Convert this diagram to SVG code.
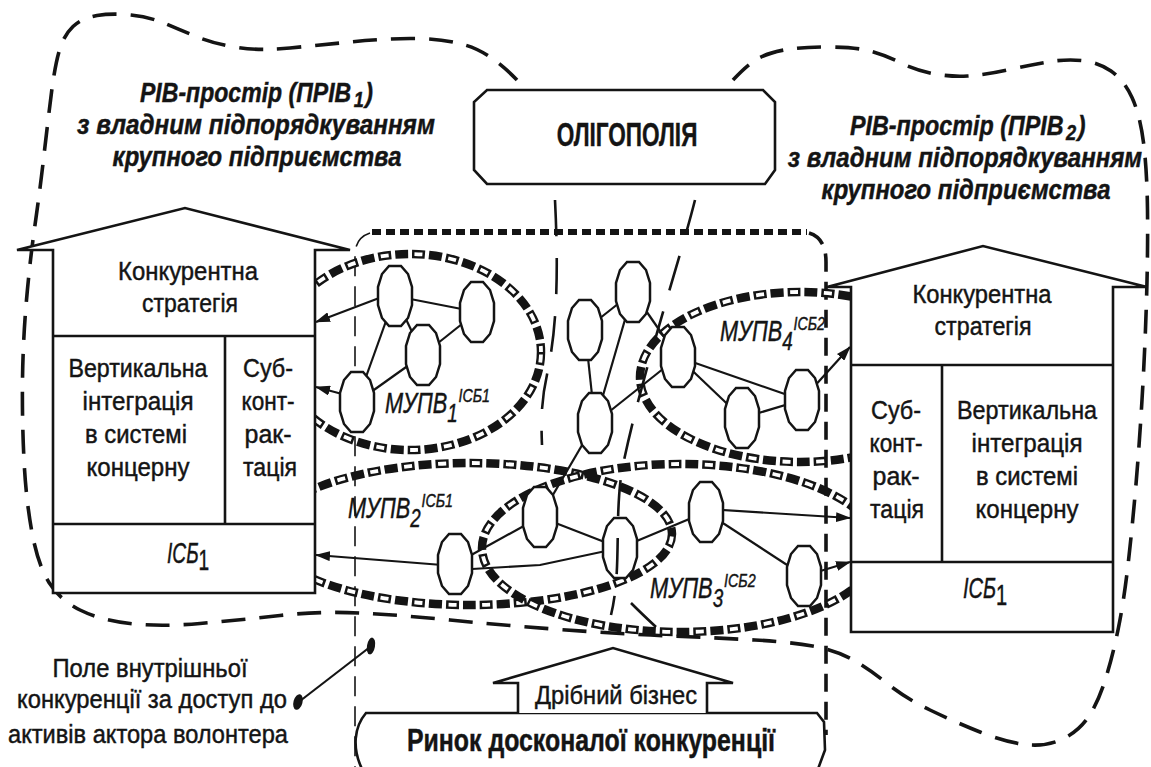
<svg xmlns="http://www.w3.org/2000/svg" width="1151" height="767" viewBox="0 0 1151 767">
<defs>
<style>
.t{font-family:'Liberation Sans Narrow','Liberation Sans',Arial,sans-serif;fill:#141414;stroke:#141414;stroke-width:0.45}
.r{font-size:26px}
.it{font-style:italic}
.b{font-weight:bold}
.box{fill:#fff;stroke:#141414;stroke-width:2.6;stroke-linejoin:miter}
.div{stroke:#141414;stroke-width:2.6;fill:none}
.cloud{fill:none;stroke:#141414;stroke-width:3.6;stroke-dasharray:24 14}
.chainK{fill:none;stroke:#141414;stroke-width:8.5;stroke-dasharray:13 4}
.chainW{fill:none;stroke:#fff;stroke-width:3.8;stroke-dasharray:8 26;stroke-dashoffset:-2.5}
.edge{stroke:#141414;stroke-width:2.2;fill:none}
.arrow{stroke:#141414;stroke-width:2.2;fill:none;marker-end:url(#arr)}
.node{fill:#fff;stroke:#141414;stroke-width:2.5}
.bound{fill:none;stroke:#141414;stroke-width:2.6;stroke-dasharray:36 22}
.dots{fill:none;stroke:#141414;stroke-width:6;stroke-dasharray:9 5}
.thin{fill:none;stroke:#141414;stroke-width:1.6;stroke-dasharray:20 10}
.thick{fill:none;stroke:#141414;stroke-width:3.6;stroke-dasharray:18 10}
</style>
<marker id="arr" markerUnits="userSpaceOnUse" markerWidth="15" markerHeight="10" refX="14" refY="5" orient="auto">
<path d="M0,0 L15,5 L0,10 z" fill="#141414"/>
</marker>
<polygon id="oct" points="-6,-30 6,-30 13,-22 17,-9 17,9 13,22 6,30 -6,30 -13,22 -17,9 -17,-9 -13,-22"/>
</defs>

<g id="field-priv">
<path class="cloud" d="M517,80 Q490,52 465,45 Q440,38 410,38.5 Q380,39 350,42 Q320,45 290,48 Q260,51 237.5,47.5 Q215,44 197.5,37 Q180,30 165,23.5 Q150,17 131,15 Q112,13 97,15.5 Q82,18 73,26.5 Q64,35 59.5,50 Q55,65 51.5,92.5 Q48,120 44,155 Q40,190 35,225 Q30,260 26.5,300 Q23,340 22.5,380 Q22,420 24,460 Q26,500 32,532.5 Q38,565 49,582.5 Q60,600 80,610 Q100,620 130,623.5 Q160,627 200,623.5 Q240,620 280,615.5 Q320,611 360,613 Q400,615 450,620 Q500,625 560,629.5 Q620,634 670,636 Q720,638 755,640 Q790,642 812.5,646 Q835,650 851.5,659 Q868,668 886.5,683 Q905,698 930,710 Q955,722 980,732 Q1005,742 1025,744.5 Q1045,747 1061.5,739.5 Q1078,732 1088,717.5 Q1098,703 1105.5,679 Q1113,655 1118.5,627.5 Q1124,600 1128,565 Q1132,530 1135.5,490 Q1139,450 1142,400 Q1145,350 1146.5,300 Q1148,250 1147.5,210 Q1147,170 1143.5,142.5 Q1140,115 1132,97.5 Q1124,80 1111,71 Q1098,62 1081.5,60.5 Q1065,59 1047.5,62 Q1030,65 1007.5,70 Q985,75 967.5,76 Q950,77 932.5,73.5 Q915,70 900,62.5 Q885,55 870,51 Q855,47 827.5,47 Q800,47 784,50 Q768,53 758,58.5 Q748,64 733,80"/>
</g>

<g id="heading-left" class="t b it" font-size="28">
<text transform="translate(140,102) scale(0.86,1)" textLength="271" lengthAdjust="spacingAndGlyphs">РІВ-простір (ПРІВ<tspan font-size="22" dy="5" dx="3">1</tspan><tspan dy="-5" dx="2">)</tspan></text>
<text transform="translate(256,134) scale(0.86,1)" text-anchor="middle" textLength="416" lengthAdjust="spacingAndGlyphs">з владним підпорядкуванням</text>
<text transform="translate(257,166) scale(0.86,1)" text-anchor="middle" textLength="336" lengthAdjust="spacingAndGlyphs">крупного підприємства</text>
</g>
<g id="heading-right" class="t b it" font-size="28">
<text transform="translate(850,135) scale(0.86,1)" textLength="274" lengthAdjust="spacingAndGlyphs">РІВ-простір (ПРІВ<tspan font-size="22" dy="5" dx="3">2</tspan><tspan dy="-5" dx="2">)</tspan></text>
<text transform="translate(965,167) scale(0.86,1)" text-anchor="middle" textLength="412" lengthAdjust="spacingAndGlyphs">з владним підпорядкуванням</text>
<text transform="translate(966,199) scale(0.86,1)" text-anchor="middle" textLength="336" lengthAdjust="spacingAndGlyphs">крупного підприємства</text>
</g>

<g id="zone-center">
<path class="dots" d="M372,232 H807"/>
<path class="thin" d="M370,233 Q355,238 355,255 V767"/>
<path class="thick" d="M809,233 Q826,238 826,262 V735"/>
</g>

<g id="mupv1">
<ellipse class="chainK" cx="410" cy="352" rx="131" ry="98"/>
<ellipse class="chainW" cx="410" cy="352" rx="131" ry="98"/>
</g>
<g id="mupv2">
<ellipse class="chainK" cx="470" cy="534" rx="202" ry="71"/>
<ellipse class="chainW" cx="470" cy="534" rx="202" ry="71"/>
</g>
<g id="mupv3">
<ellipse class="chainK" cx="680" cy="548" rx="198" ry="84"/>
<ellipse class="chainW" cx="680" cy="548" rx="198" ry="84"/>
</g>
<g id="mupv4">
<ellipse class="chainK" cx="800" cy="377" rx="160" ry="85"/>
<ellipse class="chainW" cx="800" cy="377" rx="160" ry="85"/>
</g>

<g id="connectors">
<line class="edge" x1="395" y1="296" x2="477" y2="312"/>
<line class="edge" x1="395" y1="296" x2="423" y2="355"/>
<line class="edge" x1="395" y1="296" x2="357" y2="402"/>
<line class="edge" x1="477" y1="312" x2="423" y2="355"/>
<line class="edge" x1="423" y1="355" x2="357" y2="402"/>
<line class="edge" x1="585" y1="330" x2="633" y2="292"/>
<line class="edge" x1="633" y1="292" x2="595" y2="423"/>
<line class="edge" x1="585" y1="330" x2="595" y2="423"/>
<line class="edge" x1="633" y1="292" x2="678" y2="357"/>
<line class="edge" x1="595" y1="423" x2="678" y2="357"/>
<line class="edge" x1="595" y1="423" x2="540" y2="517"/>
<line class="edge" x1="678" y1="357" x2="802" y2="400"/>
<line class="edge" x1="678" y1="357" x2="742" y2="418"/>
<line class="edge" x1="742" y1="418" x2="802" y2="400"/>
<line class="edge" x1="455" y1="564" x2="540" y2="517"/>
<polyline class="edge" points="455,570 540,565 620,548"/>
<line class="edge" x1="540" y1="517" x2="620" y2="548"/>
<line class="edge" x1="620" y1="548" x2="706" y2="512"/>
<line class="edge" x1="706" y1="512" x2="804" y2="576"/>
<line class="arrow" x1="395" y1="292" x2="316" y2="322"/>
<line class="arrow" x1="357" y1="398" x2="316" y2="387"/>
<line class="arrow" x1="455" y1="566" x2="316" y2="555"/>
<line class="arrow" x1="802" y1="400" x2="850" y2="347"/>
<line class="arrow" x1="706" y1="509" x2="850" y2="518"/>
<line class="arrow" x1="804" y1="576" x2="850" y2="562"/>
<line class="edge" x1="300" y1="701" x2="370" y2="647"/>
</g>

<g id="node-a"><use href="#oct" class="node" x="395" y="296"/></g>
<g id="node-b"><use href="#oct" class="node" x="477" y="312"/></g>
<g id="node-c"><use href="#oct" class="node" x="423" y="355"/></g>
<g id="node-d"><use href="#oct" class="node" x="357" y="402"/></g>
<g id="node-e"><use href="#oct" class="node" x="633" y="292"/></g>
<g id="node-f"><use href="#oct" class="node" x="585" y="330"/></g>
<g id="node-g"><use href="#oct" class="node" x="595" y="423"/></g>
<g id="node-h"><use href="#oct" class="node" x="678" y="357"/></g>
<g id="node-j"><use href="#oct" class="node" x="742" y="418"/></g>
<g id="node-k"><use href="#oct" class="node" x="802" y="400"/></g>
<g id="node-l"><use href="#oct" class="node" x="455" y="564"/></g>
<g id="node-i"><use href="#oct" class="node" x="540" y="517"/></g>
<g id="node-m"><use href="#oct" class="node" x="620" y="548"/></g>
<g id="node-n"><use href="#oct" class="node" x="706" y="512"/></g>
<g id="node-o"><use href="#oct" class="node" x="804" y="576"/></g>

<g id="boundaries">
<path class="bound" d="M555,200 C559,280 556,330 548,370 C541,400 541,420 542,445"/>
<path class="bound" d="M695,200 C680,260 640,380 622,470 C614,520 622,570 611,615"/>
<path d="M631,603 Q642,614 656,627" fill="none" stroke="#141414" stroke-width="2.6"/>
</g>

<g id="labels-mupv" class="t it" font-size="29">
<text transform="translate(385,413) scale(0.76,1)" textLength="138" lengthAdjust="spacingAndGlyphs">МУПВ<tspan font-size="25" dy="9">1</tspan><tspan font-size="19" dy="-20" dx="1">ІСБ1</tspan></text>
<text transform="translate(348,518) scale(0.76,1)" textLength="138" lengthAdjust="spacingAndGlyphs">МУПВ<tspan font-size="25" dy="9">2</tspan><tspan font-size="19" dy="-20" dx="1">ІСБ1</tspan></text>
<text transform="translate(650,598) scale(0.76,1)" textLength="139" lengthAdjust="spacingAndGlyphs">МУПВ<tspan font-size="25" dy="9">3</tspan><tspan font-size="19" dy="-20" dx="1">ІСБ2</tspan></text>
<text transform="translate(720,341) scale(0.76,1)" textLength="138" lengthAdjust="spacingAndGlyphs">МУПВ<tspan font-size="25" dy="9">4</tspan><tspan font-size="19" dy="-20" dx="1">ІСБ2</tspan></text>
</g>

<g id="house-left">
<path class="box" d="M53,250 H17 L185,208 L350,250 H315 V593 H53 Z"/>
<path class="div" d="M53,336 H315 M225,336 V524 M53,524 H315"/>
<g class="t r" text-anchor="middle">
<text transform="translate(188,280) scale(0.9,1)" textLength="155.6" lengthAdjust="spacingAndGlyphs">Конкурентна</text>
<text transform="translate(190,312) scale(0.9,1)" textLength="106.7" lengthAdjust="spacingAndGlyphs">стратегія</text>
<text transform="translate(138,377) scale(0.9,1)" textLength="154.4" lengthAdjust="spacingAndGlyphs">Вертикальна</text>
<text transform="translate(138,410) scale(0.9,1)" textLength="123.3" lengthAdjust="spacingAndGlyphs">інтеграція</text>
<text transform="translate(136,443) scale(0.9,1)" textLength="113.3" lengthAdjust="spacingAndGlyphs">в системі</text>
<text transform="translate(138,476) scale(0.9,1)" textLength="114.4" lengthAdjust="spacingAndGlyphs">концерну</text>
<text transform="translate(268,377) scale(0.9,1)" textLength="55.6" lengthAdjust="spacingAndGlyphs">Суб-</text>
<text transform="translate(268,410) scale(0.9,1)" textLength="58.9" lengthAdjust="spacingAndGlyphs">конт-</text>
<text transform="translate(268,443) scale(0.9,1)" textLength="52.2" lengthAdjust="spacingAndGlyphs">рак-</text>
<text transform="translate(270,476) scale(0.9,1)" textLength="60" lengthAdjust="spacingAndGlyphs">тація</text>
</g>
<text class="t it" transform="translate(167,563) scale(0.66,1)" font-size="29" textLength="64" lengthAdjust="spacingAndGlyphs">ІСБ<tspan dy="7" font-style="normal">1</tspan></text>
</g>

<g id="house-right">
<path class="box" d="M851,287 H827 L983,246 L1147,287 H1113 V632 H851 Z"/>
<path class="div" d="M851,365 H1113 M942,365 V562 M851,562 H1113"/>
<g class="t r" text-anchor="middle">
<text transform="translate(982,303) scale(0.9,1)" textLength="154.4" lengthAdjust="spacingAndGlyphs">Конкурентна</text>
<text transform="translate(983,335) scale(0.9,1)" textLength="107.8" lengthAdjust="spacingAndGlyphs">стратегія</text>
<text transform="translate(896,419) scale(0.9,1)" textLength="55.6" lengthAdjust="spacingAndGlyphs">Суб-</text>
<text transform="translate(896,452) scale(0.9,1)" textLength="58.9" lengthAdjust="spacingAndGlyphs">конт-</text>
<text transform="translate(896,485) scale(0.9,1)" textLength="52.2" lengthAdjust="spacingAndGlyphs">рак-</text>
<text transform="translate(897,518) scale(0.9,1)" textLength="60" lengthAdjust="spacingAndGlyphs">тація</text>
<text transform="translate(1027,419) scale(0.9,1)" textLength="155.6" lengthAdjust="spacingAndGlyphs">Вертикальна</text>
<text transform="translate(1027,452) scale(0.9,1)" textLength="123.3" lengthAdjust="spacingAndGlyphs">інтеграція</text>
<text transform="translate(1027,485) scale(0.9,1)" textLength="113.3" lengthAdjust="spacingAndGlyphs">в системі</text>
<text transform="translate(1027,518) scale(0.9,1)" textLength="114.4" lengthAdjust="spacingAndGlyphs">концерну</text>
</g>
<text class="t it" transform="translate(963,598) scale(0.66,1)" font-size="29" textLength="67" lengthAdjust="spacingAndGlyphs">ІСБ<tspan dy="7" font-style="normal">1</tspan></text>
</g>

<g id="oligopoly">
<path class="box" d="M487,90 H763 L775,102 V170 L765,184 H487 L474,170 V102 Z"/>
<text class="t b" transform="translate(627,146) scale(0.67,1)" font-size="33" text-anchor="middle" textLength="210" lengthAdjust="spacingAndGlyphs">ОЛІГОПОЛІЯ</text>
</g>

<g id="market">
<path class="box" d="M362,769 C352,748 354,727 366,713 H817 L824,722 L825,750 L818,769"/>
<text class="t b" transform="translate(591,751) scale(0.79,1)" font-size="31" text-anchor="middle" textLength="466" lengthAdjust="spacingAndGlyphs">Ринок досконалої конкуренції</text>
</g>

<g id="small-business">
<path class="box" d="M518,713 V683 H493 L613,648 L733,683 H707 V713"/>
<text class="t r" transform="translate(616,704) scale(0.85,1)" text-anchor="middle" textLength="190.6" lengthAdjust="spacingAndGlyphs">Дрібний бізнес</text>
</g>

<g id="field-label">
<ellipse cx="298" cy="702" rx="4.5" ry="8" transform="rotate(15 298 702)" fill="#141414"/>
<ellipse cx="371" cy="646" rx="4" ry="8.5" transform="rotate(10 371 646)" fill="#141414"/>
<g class="t" font-size="25" text-anchor="middle">
<text transform="translate(150,677) scale(0.95,1)" textLength="205.3" lengthAdjust="spacingAndGlyphs">Поле внутрішньої</text>
<text transform="translate(152,708) scale(0.95,1)" textLength="284.2" lengthAdjust="spacingAndGlyphs">конкуренції за доступ до</text>
<text transform="translate(148,743) scale(0.95,1)" textLength="294.7" lengthAdjust="spacingAndGlyphs">активів актора волонтера</text>
</g>
</g>
</svg>
